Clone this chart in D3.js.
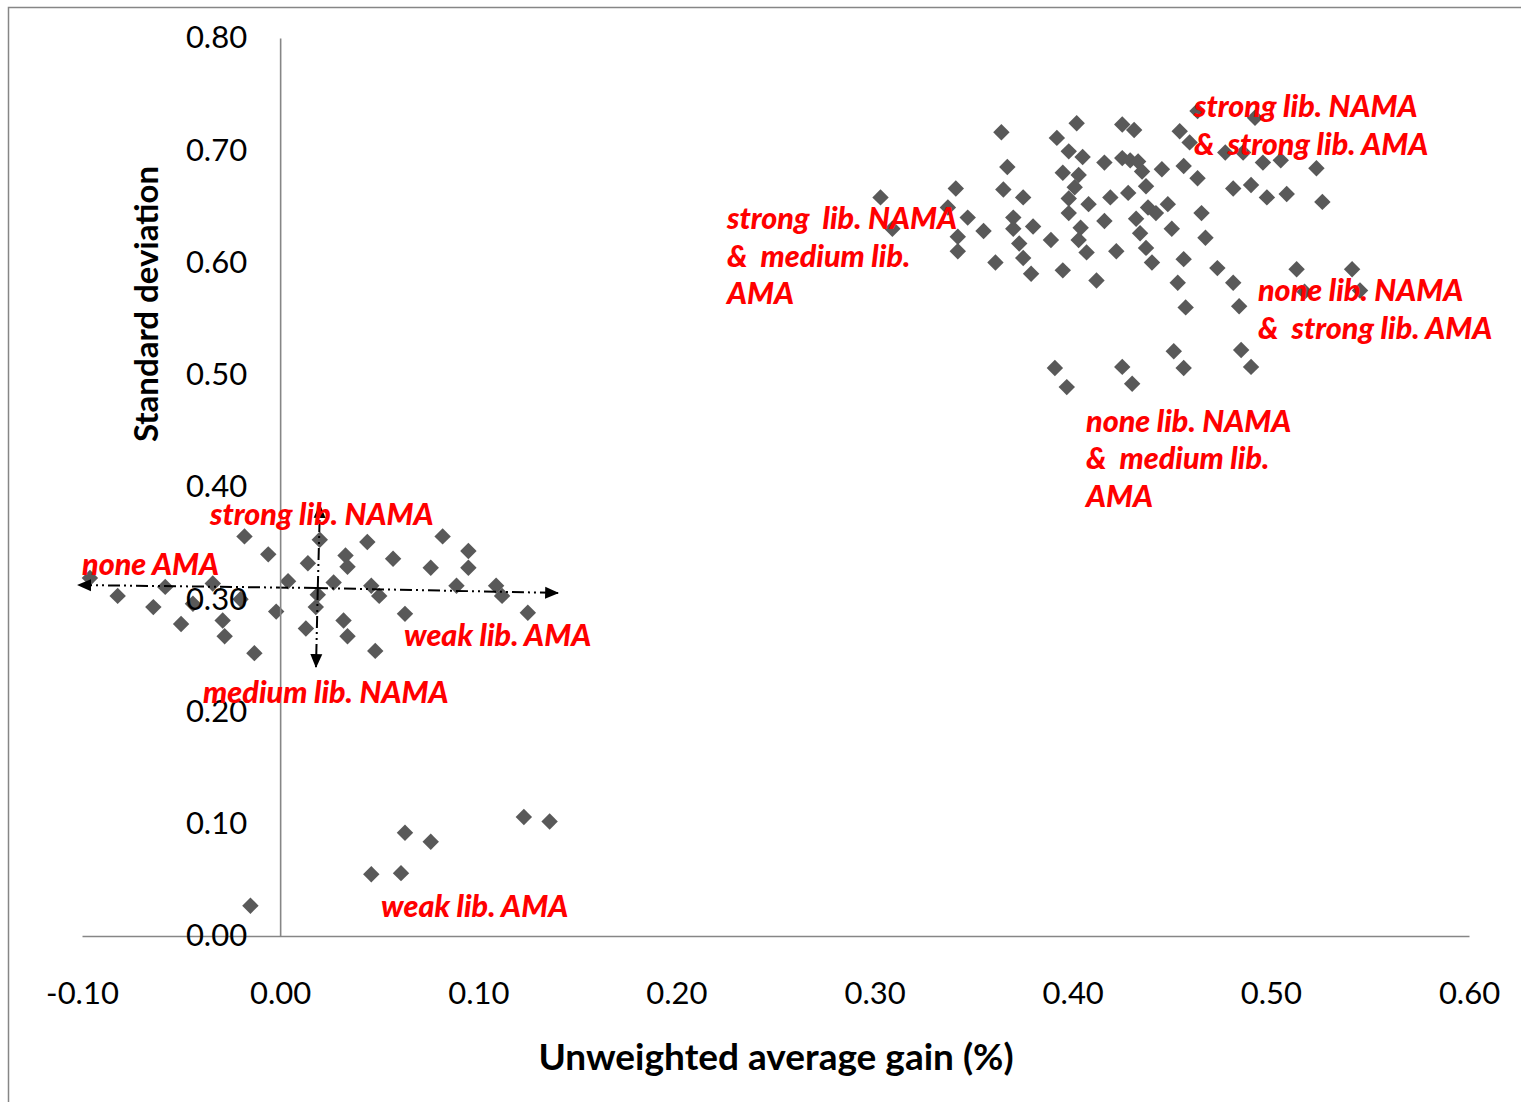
<!DOCTYPE html>
<html>
<head>
<meta charset="utf-8">
<script src="https://cdn.jsdelivr.net/npm/d3@7"></script>
<style>
  html, body { margin: 0; padding: 0; background: #fff; }
  svg { display: block; }
  .tick text { font-family: Lato, "Open Sans", sans-serif; }
</style>
</head>
<body>
<svg id="chart" width="1521" height="1102"></svg>
<script>
// ---------- data ----------
const xTickValues = [-0.1, 0.0, 0.1, 0.2, 0.3, 0.4, 0.5, 0.6];
const yTickValues = [0.0, 0.1, 0.2, 0.3, 0.4, 0.5, 0.6, 0.7, 0.8];
const xTitle = "Unweighted average gain (%)";
const yTitle = "Standard deviation";

// [unweighted average gain, standard deviation]
const clusterLowLib = [
  [-0.096, 0.319], [-0.082, 0.303], [-0.058, 0.311], [-0.064, 0.293], [-0.050, 0.278],
  [-0.034, 0.314], [-0.044, 0.296], [-0.020, 0.300], [-0.029, 0.281], [-0.028, 0.267],
  [-0.018, 0.356], [-0.006, 0.340], [-0.002, 0.289], [-0.013, 0.252], [0.004, 0.316],
  [0.014, 0.332], [0.013, 0.274], [0.020, 0.353], [0.019, 0.304], [0.018, 0.293],
  [0.044, 0.351], [0.033, 0.339], [0.034, 0.329], [0.057, 0.336], [0.082, 0.356],
  [0.095, 0.343], [0.095, 0.328], [0.076, 0.328], [0.027, 0.315], [0.046, 0.312],
  [0.050, 0.303], [0.089, 0.312], [0.109, 0.312], [0.112, 0.303], [0.125, 0.288],
  [0.063, 0.287], [0.032, 0.281], [0.034, 0.267], [0.048, 0.254]
];
const clusterWeakAMA = [
  [-0.015, 0.027], [0.046, 0.055], [0.061, 0.056], [0.063, 0.092],
  [0.076, 0.084], [0.123, 0.106], [0.136, 0.102]
];
const clusterHighLib = [
  [0.364, 0.716], [0.367, 0.685], [0.303, 0.658], [0.341, 0.666], [0.365, 0.665],
  [0.375, 0.658], [0.337, 0.649], [0.309, 0.630], [0.347, 0.640], [0.355, 0.628],
  [0.342, 0.623], [0.342, 0.610], [0.370, 0.640], [0.370, 0.630], [0.380, 0.632],
  [0.373, 0.617], [0.375, 0.604], [0.361, 0.600], [0.379, 0.590],
  [0.402, 0.724], [0.425, 0.723], [0.431, 0.718], [0.392, 0.711], [0.398, 0.699],
  [0.405, 0.694], [0.416, 0.689], [0.425, 0.693], [0.429, 0.691], [0.433, 0.690],
  [0.435, 0.681], [0.437, 0.668], [0.445, 0.683], [0.454, 0.717], [0.459, 0.707],
  [0.456, 0.686], [0.463, 0.675], [0.463, 0.735], [0.395, 0.680], [0.403, 0.678],
  [0.401, 0.667], [0.398, 0.657], [0.398, 0.644], [0.408, 0.652], [0.419, 0.658],
  [0.428, 0.662], [0.438, 0.649], [0.442, 0.644], [0.448, 0.652], [0.465, 0.644],
  [0.389, 0.620], [0.404, 0.631], [0.403, 0.620], [0.407, 0.609], [0.416, 0.637],
  [0.432, 0.639], [0.434, 0.626], [0.437, 0.613], [0.440, 0.600], [0.422, 0.610],
  [0.450, 0.630], [0.467, 0.622], [0.456, 0.603], [0.395, 0.593], [0.412, 0.584],
  [0.453, 0.582], [0.492, 0.729], [0.477, 0.698], [0.486, 0.698], [0.496, 0.689],
  [0.505, 0.691], [0.523, 0.684], [0.481, 0.666], [0.490, 0.669], [0.498, 0.658],
  [0.508, 0.661], [0.526, 0.654], [0.473, 0.595], [0.481, 0.582], [0.513, 0.594],
  [0.484, 0.561], [0.457, 0.560], [0.541, 0.594], [0.517, 0.574], [0.545, 0.575],
  [0.485, 0.522], [0.490, 0.507], [0.451, 0.521], [0.456, 0.506], [0.391, 0.506],
  [0.397, 0.489], [0.425, 0.507], [0.430, 0.492]
];

// red annotations: first-line anchor in data units, then lines of text
const annotationLines = [
  ["strong lib. NAMA", "&  strong lib. AMA"],
  ["strong  lib. NAMA", "&  medium lib.", "AMA"],
  ["none lib. NAMA", "&  strong lib. AMA"],
  ["none lib. NAMA", "&  medium lib.", "AMA"],
  ["strong lib. NAMA"],
  ["none AMA"],
  ["weak lib. AMA"],
  ["medium lib. NAMA"],
  ["weak lib. AMA"]
];
const annotationAnchors = [
  [0.4612, 0.7296], [0.2255, 0.6298], [0.4935, 0.5657], [0.4067, 0.4490],
  [-0.0354, 0.3661], [-0.1000, 0.3216], [0.0625, 0.2584], [-0.0389, 0.2076], [0.0509, 0.0169]
];

// dash-dot-dot arrows: [from, to] in data units
const arrowSegments = [
  [[0.0181, 0.3100], [-0.1020, 0.3127]],
  [[0.0181, 0.3100], [0.1403, 0.3056]],
  [[0.0190, 0.3100], [0.0201, 0.3840]],
  [[0.0190, 0.3100], [0.0181, 0.2396]]
];

// ---------- drawing ----------
const svg = d3.select("#chart");
const W = 1521, H = 1102;
const x = d3.scaleLinear().domain([-0.1, 0.6]).range([82, 1469]);
const y = d3.scaleLinear().domain([0, 0.8]).range([936, 38]);
const axisColor = "#868686";
const tickFont = 31;

// outer chart border
svg.append("rect")
  .attr("x", 8.5).attr("y", 7.5)
  .attr("width", W + 20).attr("height", H + 20)
  .attr("fill", "none").attr("stroke", axisColor).attr("stroke-width", 1.5);

// arrow marker
svg.append("defs").append("marker")
  .attr("id", "arrowHead")
  .attr("markerUnits", "userSpaceOnUse")
  .attr("viewBox", "0 -7 14 14")
  .attr("refX", 13).attr("refY", 0)
  .attr("markerWidth", 14).attr("markerHeight", 14)
  .attr("orient", "auto")
  .append("path").attr("d", "M0,-6L14,0L0,6Z").attr("fill", "#000");

// x axis (at y = 0)
const gx = svg.append("g")
  .attr("transform", `translate(0,${y(0)})`)
  .call(d3.axisBottom(x).tickValues(xTickValues).tickSize(0).tickPadding(46)
    .tickFormat(d3.format(".2f")));
gx.select(".domain").attr("stroke", axisColor).attr("stroke-width", 1.6);
gx.selectAll("text").attr("font-size", tickFont).attr("fill", "#000")
  .text(d => d3.format(".2f")(d).replace("−", "-"));

// y axis (at x = 0)
const gy = svg.append("g")
  .attr("transform", `translate(${x(0)},0)`)
  .call(d3.axisLeft(y).tickValues(yTickValues).tickSize(0).tickPadding(33)
    .tickFormat(d3.format(".2f")));
gy.select(".domain").attr("stroke", axisColor).attr("stroke-width", 1.6);
gy.selectAll("text").attr("font-size", tickFont).attr("fill", "#000");

// points
const allPoints = clusterLowLib.concat(clusterWeakAMA, clusterHighLib);
const diamond = d3.symbol().type(d3.symbolSquare).size(135);
svg.append("g").selectAll("path")
  .data(allPoints).join("path")
  .attr("d", diamond)
  .attr("transform", d => `translate(${x(d[0])},${y(d[1])}) rotate(45)`)
  .attr("fill", "#595959");

// arrows
svg.append("g").selectAll("line")
  .data(arrowSegments).join("line")
  .attr("x1", d => x(d[0][0])).attr("y1", d => y(d[0][1]))
  .attr("x2", d => x(d[1][0])).attr("y2", d => y(d[1][1]))
  .attr("stroke", "#000").attr("stroke-width", 2)
  .attr("stroke-dasharray", "12,4,2,4,2,4")
  .attr("marker-end", "url(#arrowHead)");

// bring tick labels above points
gx.raise(); gy.raise();

// red annotations
const annG = svg.append("g");
annotationLines.forEach((lines, i) => {
  const t = annG.append("text")
    .attr("x", x(annotationAnchors[i][0]))
    .attr("y", y(annotationAnchors[i][1]))
    .attr("fill", "#ff0000")
    .attr("font-family", "Lato, 'Open Sans', sans-serif")
    .attr("font-weight", "900").attr("font-style", "italic")
    .attr("font-size", 30.5)
    .style("white-space", "pre");
  lines.forEach((ln, j) => {
    t.append("tspan").attr("x", x(annotationAnchors[i][0]))
      .attr("dy", j === 0 ? 0 : 37.5).text(ln);
  });
});

// axis titles
svg.append("text")
  .attr("x", 776).attr("y", 1070)
  .attr("text-anchor", "middle")
  .attr("font-family", "Lato, 'Open Sans', sans-serif")
  .attr("font-weight", "bold").attr("font-size", 37)
  .attr("fill", "#000").text(xTitle);
svg.append("text")
  .attr("transform", "translate(158,304) rotate(-90)")
  .attr("text-anchor", "middle")
  .attr("font-family", "Lato, 'Open Sans', sans-serif")
  .attr("font-weight", "bold").attr("font-size", 33)
  .attr("fill", "#000").text(yTitle);
</script>
</body>
</html>
